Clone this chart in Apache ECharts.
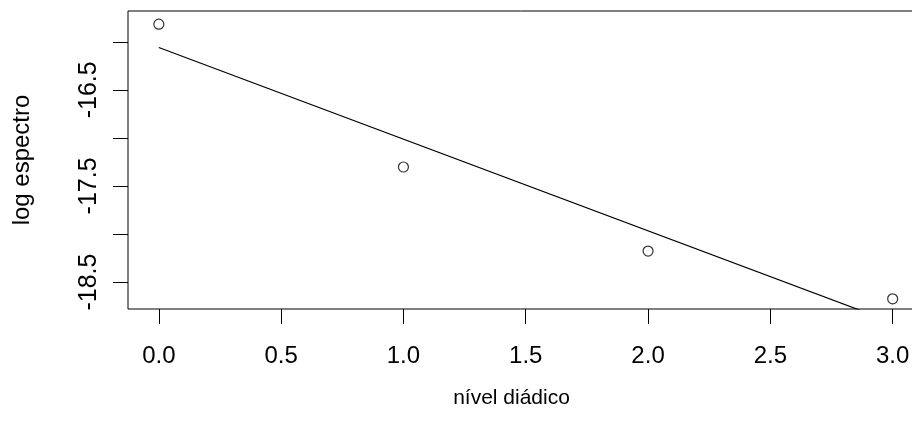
<!DOCTYPE html>
<html>
<head>
<meta charset="utf-8">
<script src="https://cdn.jsdelivr.net/npm/echarts@6/dist/echarts.min.js"></script>
<style>
html,body{margin:0;padding:0;background:#fff;overflow:hidden;}
#chart{width:912px;height:432px;}
</style>
</head>
<body>
<div id="chart"></div>
<script>
// Observed points (nível diádico vs log espectro)
var nivel = [0, 1, 2, 3];
var logEspectro = [-15.817, -17.303, -18.177, -18.674];
// Fitted line endpoints (drawn from x=0 to x=3, clipped at the plot box)
var fitX = [0, 3];
var fitY = [-16.06, -18.92];
// Ticks and labels
var xTicks = [0, 0.5, 1, 1.5, 2, 2.5, 3];
var yTicks = [-18.5, -18, -17.5, -17, -16.5, -16];
var yLabels = [-18.5, -17.5, -16.5];

var pts = nivel.map(function (x, i) { return [x, logEspectro[i]]; });
var fit = fitX.map(function (x, i) { return [x, fitY[i]]; });

var font = 'Liberation Sans, Arial, sans-serif';
var chart = echarts.init(document.getElementById('chart'), null, {renderer: 'canvas'});
chart.setOption({
  animation: false,
  backgroundColor: '#ffffff',
  grid: {
    left: 128, top: 11, width: 795, height: 298,
    containLabel: false, outerBoundsMode: 'none',
    show: true, borderColor: '#000', borderWidth: 1, backgroundColor: 'transparent'
  },
  xAxis: {
    type: 'value', min: -0.126, max: 3.124,
    name: 'nível diádico', nameLocation: 'middle', nameGap: 79,
    nameTextStyle: {fontFamily: font, fontSize: 21, color: '#000', padding: [0, 28, 0, 0]},
    axisLine: {show: false, onZero: false},
    splitLine: {show: false},
    axisTick: {show: true, length: 15, inside: false, customValues: xTicks, lineStyle: {color: '#000', width: 1}},
    axisLabel: {
      customValues: xTicks, margin: 35, fontFamily: font, fontSize: 24, color: '#000',
      formatter: function (v) { return v.toFixed(1); }
    }
  },
  yAxis: {
    type: 'value', min: -18.78, max: -15.68,
    name: 'log espectro', nameLocation: 'middle', nameGap: 94, nameRotate: 90,
    nameTextStyle: {fontFamily: font, fontSize: 24, color: '#000'},
    axisLine: {show: false, onZero: false},
    splitLine: {show: false},
    axisTick: {show: true, length: 15, inside: false, customValues: yTicks, lineStyle: {color: '#000', width: 1}},
    axisLabel: {
      customValues: yLabels, margin: 26, rotate: 90, fontFamily: font, fontSize: 25, color: '#000',
      formatter: function (v) { return v.toFixed(1); }
    }
  },
  series: [
    {
      type: 'line', data: fit, symbol: 'none', clip: true, silent: true,
      lineStyle: {color: '#000', width: 1.2}
    },
    {
      type: 'scatter', data: pts, symbol: 'circle', symbolSize: 10,
      itemStyle: {color: '#fff', borderColor: '#000', borderWidth: 1.2}
    }
  ]
});
</script>
</body>
</html>
